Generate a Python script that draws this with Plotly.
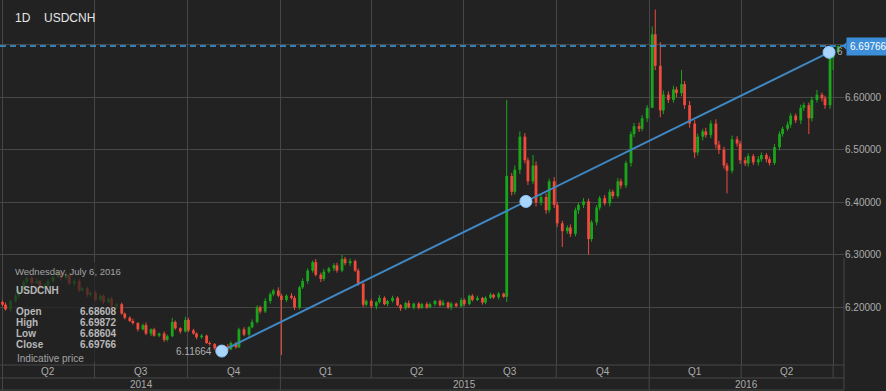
import plotly.graph_objects as go
import pandas as pd

# ---------------- data ----------------
symbol = "USDCNH"
interval = "1D"
last_date_text = "Wednesday, July 6, 2016"
info_labels = ["Open", "High", "Low", "Close"]
info_values = ["6.68608", "6.69872", "6.68604", "6.69766"]
last_price = 6.69766

# 3-trading-day candles, ending 2016-07-06 (closes)
first_open = 6.21
close = [
    6.205, 6.196, 6.212, 6.222, 6.232, 6.248, 6.256, 6.246, 6.25, 6.238,
    6.242, 6.25, 6.258, 6.266, 6.256, 6.262, 6.245, 6.25, 6.232, 6.236,
    6.224, 6.228, 6.214, 6.222, 6.21, 6.216, 6.202, 6.206, 6.188, 6.18,
    6.174, 6.17, 6.158, 6.166, 6.15, 6.158, 6.146, 6.15, 6.138, 6.145,
    6.172, 6.16, 6.154, 6.176, 6.156, 6.15, 6.143, 6.146, 6.132, 6.13,
    6.122, 6.118, 6.126, 6.12, 6.132, 6.124, 6.158, 6.148, 6.162, 6.172,
    6.2, 6.192, 6.212, 6.225, 6.232, 6.222, 6.214, 6.222, 6.218, 6.2,
    6.238, 6.25, 6.27, 6.286, 6.262, 6.254, 6.268, 6.274, 6.28, 6.27,
    6.292, 6.284, 6.288, 6.27, 6.245, 6.205, 6.212, 6.202, 6.21, 6.218,
    6.206, 6.212, 6.218, 6.204, 6.198, 6.208, 6.2, 6.207, 6.199, 6.206,
    6.2, 6.206, 6.212, 6.204, 6.209, 6.2, 6.207, 6.202, 6.214, 6.206,
    6.222, 6.214, 6.218, 6.209, 6.218, 6.224, 6.219, 6.226, 6.22, 6.45,
    6.42, 6.462, 6.525, 6.48, 6.44, 6.47, 6.4, 6.41, 6.385, 6.44,
    6.395, 6.36, 6.345, 6.352, 6.34, 6.385, 6.395, 6.402, 6.33, 6.362,
    6.39, 6.408, 6.398, 6.42, 6.412, 6.44, 6.432, 6.475, 6.53, 6.545,
    6.54, 6.56, 6.58, 6.72, 6.66, 6.575, 6.605, 6.595, 6.615, 6.608,
    6.625, 6.585, 6.55, 6.495, 6.525, 6.535, 6.528, 6.55, 6.51, 6.5,
    6.47, 6.46, 6.52, 6.512, 6.48, 6.474, 6.488, 6.476, 6.482, 6.49,
    6.482, 6.475, 6.505, 6.53, 6.54, 6.548, 6.565, 6.556, 6.58, 6.585,
    6.56, 6.595, 6.605, 6.598, 6.585, 6.675, 6.68608, 6.69766,
]
# upper / lower wick lengths in 0.001 units
wick_up = [
    3, 4, 2, 5, 3, 4, 2, 3, 5, 2,
    4, 3, 2, 4, 3, 5, 2, 3, 4, 2,
    3, 2, 4, 3, 2, 3, 4, 2, 3, 2,
    3, 4, 2, 3, 5, 2, 3, 2, 4, 3,
    0, 3, 2, 0, 4, 3, 2, 3, 2, 3,
    2, 3, 2, 4, 3, 2, 3, 4, 2, 5,
    4, 3, 5, 4, 3, 6, 4, 3, 5, 4,
    3, 5, 4, 3, 6, 4, 5, 3, 4, 5,
    0, 4, 5, 3, 4, 2, 3, 4, 2, 5,
    3, 2, 4, 3, 2, 3, 5, 2, 3, 2,
    4, 3, 2, 3, 5, 2, 3, 2, 4, 3,
    2, 3, 4, 2, 3, 4, 2, 3, 2, 0,
    6, 8, 0, 7, 5, 0, 8, 6, 7, 0,
    8, 6, 5, 4, 6, 5, 4, 6, 5, 4,
    5, 4, 6, 5, 4, 6, 5, 4, 0, 6,
    7, 6, 5, 0, 0, 0, 8, 6, 7, 5,
    0, 6, 8, 7, 6, 5, 7, 6, 8, 7,
    6, 5, 7, 6, 5, 6, 5, 4, 6, 5,
    4, 5, 6, 5, 4, 6, 5, 4, 6, 5,
    5, 6, 0, 4, 5, 4, 0, 0,
]
wick_dn = [
    3, 2, 4, 3, 5, 2, 3, 4, 2, 3,
    2, 4, 3, 2, 5, 3, 2, 4, 3, 2,
    4, 3, 2, 3, 4, 2, 3, 4, 2, 3,
    2, 3, 4, 2, 3, 5, 2, 3, 4, 3,
    2, 3, 4, 2, 3, 2, 4, 3, 2, 3,
    3, 0, 2, 4, 2, 3, 2, 3, 4, 2,
    3, 4, 3, 5, 4, 3, 0, 4, 3, 5,
    4, 3, 5, 4, 3, 6, 4, 3, 5, 4,
    3, 4, 5, 3, 4, 5, 3, 4, 6, 3,
    2, 4, 3, 2, 5, 3, 2, 4, 3, 2,
    3, 2, 4, 3, 2, 3, 5, 2, 3, 4,
    2, 3, 2, 4, 3, 2, 3, 4, 2, 0,
    7, 5, 8, 6, 7, 5, 8, 6, 7, 5,
    6, 7, 0, 5, 6, 5, 7, 6, 0, 5,
    6, 5, 4, 6, 5, 4, 6, 5, 7, 6,
    6, 5, 7, 0, 8, 0, 7, 6, 5, 8,
    6, 7, 8, 0, 6, 7, 5, 6, 7, 8,
    6, 0, 5, 6, 7, 5, 6, 5, 6, 5,
    6, 5, 4, 6, 5, 4, 6, 5, 7, 6,
    0, 6, 5, 6, 0, 7, 0, 0,
]
# explicit wick extremes (index -> value)
high_ext = {40: 6.18, 43: 6.182, 80: 6.30, 119: 6.595, 122: 6.535, 125: 6.49,
            129: 6.445, 148: 6.535, 153: 6.735, 154: 6.767, 155: 6.705,
            160: 6.652, 192: 6.614, 196: 6.69, 197: 6.69872}
low_ext = {51: 6.1166, 66: 6.109, 119: 6.21, 132: 6.315, 138: 6.30, 155: 6.562,
           163: 6.484, 171: 6.417, 190: 6.53, 194: 6.578, 196: 6.652, 197: 6.68604}

# trendline anchors
trend_dates = ["2014-11-04", "2015-09-01", "2016-06-27"]
trend_values = [6.11664, 6.40165, 6.6857]
trend_start_label = "6.11664"

quarter_starts = ["2014-04-01", "2014-07-01", "2014-10-01", "2015-01-01", "2015-04-01",
                  "2015-07-01", "2015-10-01", "2016-01-01", "2016-04-01", "2016-07-01"]
quarter_labels = ["Q2", "Q3", "Q4", "Q1", "Q2", "Q3", "Q4", "Q1", "Q2"]
year_starts = ["2014-04-01", "2015-01-01", "2016-01-01"]
year_labels = ["2014", "2015", "2016"]
y_ticks = [6.2, 6.3, 6.4, 6.5, 6.6, 6.7]
y_tick_text = ["6.20000", "6.30000", "6.40000", "6.50000", "6.60000", ""]  # 6.7 hidden by price tag
x_range = ["2014-03-29 12:40", "2016-07-11 19:12"]
y_range = [6.0901, 6.7853]

# ---------------- build ----------------
bdays = pd.bdate_range("2013-06-01", "2016-07-06")
dates = list(bdays[::-1][::3][:len(close)][::-1])
opens = [first_open] + close[:-1]
n = len(close)
wu = (wick_up + [0] * n)[:n]
wd = (wick_dn + [0] * n)[:n]
highs = [max(o, c) + u * 0.001 for o, c, u in zip(opens, close, wu)]
lows = [min(o, c) - d * 0.001 for o, c, d in zip(opens, close, wd)]
for k, v in high_ext.items():
    highs[k] = v
for k, v in low_ext.items():
    lows[k] = v

GREEN = "#1aa61a"
RED = "#ef4a3c"
BG = "#222222"
GRID = "#474747"
TXT = "#acacac"
FONT = "Liberation Sans, Arial, sans-serif"

fig = go.Figure()
for up, col in [(True, GREEN), (False, RED)]:
    wx, wy, bx, by = [], [], [], []
    for d, o, h, l, c in zip(dates, opens, highs, lows, close):
        if (c >= o) != up:
            continue
        wx += [d, d, None]
        wy += [l, h, None]
        bx += [d, d, None]
        by += [o, c, None]
    fig.add_trace(go.Scatter(x=wx, y=wy, mode="lines", line=dict(color=col, width=1),
                             hoverinfo="skip", showlegend=False))
    fig.add_trace(go.Scatter(x=bx, y=by, mode="lines", line=dict(color=col, width=2.8),
                             hoverinfo="skip", showlegend=False))

fig.add_trace(go.Scatter(x=trend_dates, y=trend_values, mode="lines+markers",
                         line=dict(color="#3f88c4", width=2),
                         marker=dict(size=12, color="#a9d5fc", line=dict(color="#8cc4f5", width=1)),
                         hoverinfo="skip", showlegend=False))

W, H = 844.0, 365.0


def px(xp):
    return xp / W


def py(yp):
    return 1 - yp / H


shapes = []
# dashed last-price line
shapes.append(dict(type="line", xref="paper", yref="y", x0=0, x1=1, y0=last_price, y1=last_price,
                   line=dict(color="#3a9de2", width=1.3, dash="6px,4px"), layer="above"))
# dim box behind the info panel
shapes.append(dict(type="rect", xref="paper", yref="paper", x0=px(8), x1=px(120), y0=py(362), y1=py(262),
                   fillcolor="rgba(34,34,34,0.72)", line=dict(width=0), layer="above"))
# axis area lines
for yy in [365, 378, 390]:
    shapes.append(dict(type="line", xref="paper", yref="paper", x0=0, x1=1, y0=py(yy), y1=py(yy),
                       line=dict(color=GRID, width=1)))
for q in quarter_starts:
    shapes.append(dict(type="line", xref="x", yref="paper", x0=q, x1=q, y0=py(365), y1=py(378),
                       line=dict(color=GRID, width=1)))
for ys in year_starts:
    shapes.append(dict(type="line", xref="x", yref="paper", x0=ys, x1=ys, y0=py(378), y1=py(390),
                       line=dict(color=GRID, width=1)))
shapes.append(dict(type="line", xref="paper", yref="paper", x0=1, x1=1, y0=py(258), y1=py(390),
                   line=dict(color=GRID, width=1)))
# tag arrow
shapes.append(dict(type="path", xref="paper", yref="paper",
                   path=f"M {px(842.5)} {py(46)} L {px(846.5)} {py(42)} L {px(846.5)} {py(50)} Z",
                   fillcolor="#3d8ed8", line=dict(width=0), layer="above"))

ann = []
ann.append(dict(text=interval, xref="paper", yref="paper", x=px(13), y=py(18.5), xanchor="left",
                yanchor="middle", showarrow=False, font=dict(size=12, color="#e6e6e6", family=FONT)))
ann.append(dict(text=symbol, xref="paper", yref="paper", x=px(42), y=py(18.5), xanchor="left",
                yanchor="middle", showarrow=False, font=dict(size=12, color="#e6e6e6", family=FONT)))
# price tag
ann.append(dict(text=f"{last_price:.5f}", xref="paper", yref="y", x=px(846), y=last_price, xanchor="left",
                yanchor="middle", showarrow=False, bgcolor="#3d8ed8", borderpad=3,
                font=dict(size=10, color="#ffffff", family=FONT)))
ann.append(dict(text="6", xref="paper", yref="paper", x=px(835.5), y=py(52), xanchor="left",
                yanchor="middle", showarrow=False, borderpad=0, font=dict(size=10, color=TXT, family=FONT)))
ann.append(dict(text=trend_start_label, xref="paper", yref="paper", x=px(214), y=py(351.5), xanchor="right",
                yanchor="middle", showarrow=False, font=dict(size=10, color=TXT, family=FONT)))
# info panel
ann.append(dict(text=last_date_text, xref="paper", yref="paper", x=px(13), y=py(271), xanchor="left",
                yanchor="middle", showarrow=False, font=dict(size=9.5, color="#a4a4a4", family=FONT)))
ann.append(dict(text=f"<b>{symbol}</b>", xref="paper", yref="paper", x=px(13.5), y=py(290.5), xanchor="left",
                yanchor="middle", showarrow=False, font=dict(size=10, color="#b8b8b8", family=FONT)))
for k, (lab, val) in enumerate(zip(info_labels, info_values)):
    yy = 311.7 + 11 * k
    ann.append(dict(text=f"<b>{lab}</b>", xref="paper", yref="paper", x=px(13.5), y=py(yy), xanchor="left",
                    yanchor="middle", showarrow=False, font=dict(size=10, color="#b8b8b8", family=FONT)))
    ann.append(dict(text=f"<b>{val}</b>", xref="paper", yref="paper", x=px(118.5), y=py(yy), xanchor="right",
                    yanchor="middle", showarrow=False, font=dict(size=10, color="#b8b8b8", family=FONT)))
ann.append(dict(text="Indicative price", xref="paper", yref="paper", x=px(15), y=py(358.5), xanchor="left",
                yanchor="middle", showarrow=False, font=dict(size=10, color="#a4a4a4", family=FONT)))

# quarter labels
qs = pd.to_datetime(quarter_starts)
for k, lab in enumerate(quarter_labels):
    mid = qs[k] + (qs[k + 1] - qs[k]) / 2
    ann.append(dict(text=lab, xref="x", yref="paper", x=mid, y=py(371.5), xanchor="center",
                    yanchor="middle", showarrow=False, font=dict(size=10, color=TXT, family=FONT)))
ys_ = list(pd.to_datetime(year_starts)) + [pd.Timestamp(x_range[1])]
for k, lab in enumerate(year_labels):
    mid = ys_[k] + (ys_[k + 1] - ys_[k]) / 2
    ann.append(dict(text=lab, xref="x", yref="paper", x=mid, y=py(384.5), xanchor="center",
                    yanchor="middle", showarrow=False, font=dict(size=10, color=TXT, family=FONT)))

fig.update_layout(
    width=886, height=391,
    margin=dict(l=0, r=42, t=0, b=26),
    paper_bgcolor=BG, plot_bgcolor=BG,
    showlegend=False, hovermode=False,
    font=dict(family=FONT, color=TXT),
    shapes=shapes, annotations=ann,
    xaxis=dict(type="date", range=x_range, tickvals=quarter_starts, showticklabels=False,
               showgrid=True, gridcolor=GRID, gridwidth=1, zeroline=False, showline=False, ticks=""),
    yaxis=dict(range=y_range, side="right", tickvals=y_ticks, ticktext=y_tick_text,
               showgrid=True, gridcolor=GRID, gridwidth=1, zeroline=False, showline=False, ticks="",
               tickfont=dict(size=10, color=TXT, family=FONT)),
)

fig.write_html("out.html", config={"displayModeBar": False},
               post_script="document.body.style.margin='0';document.body.style.padding='0';"
                           "document.body.style.overflow='hidden';document.body.style.background='#222222';")
